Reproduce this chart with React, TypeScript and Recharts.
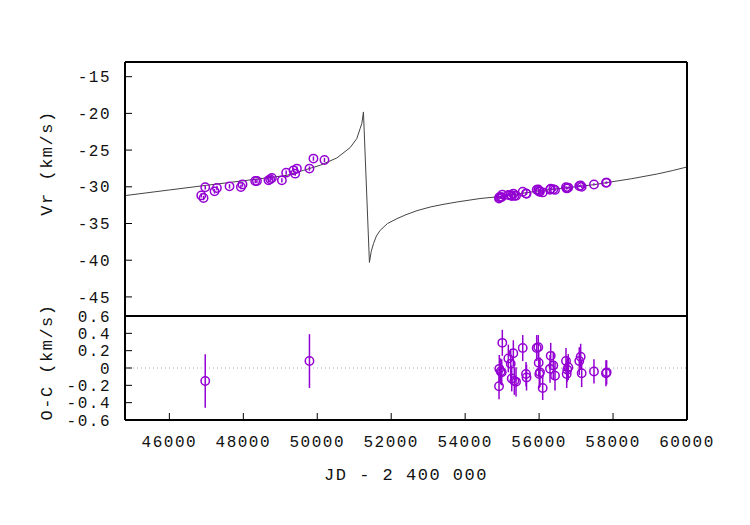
import React from 'react';
import { ComposedChart, Line, Scatter, XAxis, YAxis, ErrorBar, ReferenceLine } from 'recharts';

// orbit model
const curveJd = [44800, 46000, 47000, 48000, 49178, 49627, 50078, 50530, 50889, 51070, 51159, 51205, 51249,
  51411, 51460, 51519, 51600, 51700, 51900, 52151, 52400, 52700, 53051, 53400, 53800, 54403, 55000, 56000, 56800,
  57500, 57800, 58500, 59200, 59600, 60000];
const curveVr = [-31.2, -30.43, -29.8, -29.18, -28.44, -27.76, -27.07, -26.07, -24.66, -23.43, -22.07, -21.38, -19.8,
  -40.3, -38.8, -37.76, -36.7, -35.94, -35.0, -34.35, -33.8, -33.25, -32.76, -32.4, -32.05, -31.6, -31.3, -30.55,
  -30.1, -29.7, -29.45, -28.9, -28.25, -27.8, -27.3];

// radial velocities
const obsJd = [46862, 46924, 46970, 47222, 47286, 47627, 47935, 47978, 48322, 48368, 48681, 48727, 48773, 49043,
  49159, 49357, 49403, 49449, 49789, 49897, 50195,
  54916, 54924, 54962, 54989, 55005, 55168, 55232, 55259, 55303, 55330, 55376, 55557, 55646, 55660, 55935, 55978,
  55989, 56005, 56024, 56097, 56295, 56314, 56384, 56430, 56727, 56746, 56762, 56789, 57086, 57124, 57151, 57484,
  57808, 57827];
const obsVr = [-31.17, -31.53, -30.07, -30.62, -30.17, -29.94, -30.03, -29.67, -29.22, -29.22, -29.12, -28.98, -28.81,
  -29.12, -28.07, -27.76, -28.21, -27.52, -27.52, -26.16, -26.35,
  -31.61, -31.41, -31.42, -31.4, -31.06, -31.11, -31.1, -31.27, -30.93, -31.22, -31.22, -30.67, -30.9, -30.94, -30.39,
  -30.36, -30.54, -30.67, -30.64, -30.76, -30.41, -30.26, -30.32, -30.42, -30.07, -30.22, -30.17, -30.11, -29.9,
  -29.83, -30.01, -29.68, -29.45, -29.43];
const obsErr = [0.3, 0.3, 0.3, 0.3, 0.3, 0.3, 0.3, 0.3, 0.3, 0.3, 0.3, 0.3, 0.3, 0.3, 0.3, 0.3, 0.3, 0.3, 0.3, 0.3, 0.3,
  0.15, 0.15, 0.15, 0.15, 0.15, 0.15, 0.15, 0.15, 0.15, 0.15, 0.15, 0.15, 0.15, 0.15, 0.15, 0.15, 0.15, 0.15, 0.15,
  0.15, 0.15, 0.15, 0.15, 0.15, 0.15, 0.15, 0.15, 0.15, 0.15, 0.15, 0.15, 0.15, 0.15, 0.15];

// residuals O-C
const ocJd = [46970, 49789,
  54916, 54924, 54962, 54989, 55005, 55168, 55232, 55259, 55303, 55330, 55376, 55557, 55646, 55660, 55935, 55978,
  55989, 56005, 56024, 56097, 56295, 56314, 56384, 56430, 56727, 56746, 56762, 56789, 57086, 57124, 57151, 57484,
  57808, 57827];
const ocVal = [-0.15, 0.08,
  -0.21, -0.01, -0.04, -0.05, 0.29, 0.11, 0.05, -0.12, 0.17, -0.15, -0.16, 0.23, -0.07, -0.11, 0.23, 0.24,
  0.06, -0.07, -0.05, -0.23, -0.01, 0.14, 0.03, -0.09, 0.08, -0.07, -0.02, 0.01, 0.08, 0.13, -0.06, -0.04,
  -0.06, -0.05];
const ocErr = [0.31, 0.31,
  0.15, 0.16, 0.15, 0.15, 0.15, 0.16, 0.17, 0.15, 0.15, 0.16, 0.17, 0.15, 0.14, 0.15, 0.15, 0.14,
  0.15, 0.16, 0.17, 0.14, 0.16, 0.15, 0.16, 0.17, 0.15, 0.16, 0.14, 0.15, 0.16, 0.15, 0.16, 0.14,
  0.15, 0.14];

const xTicks = [46000, 48000, 50000, 52000, 54000, 56000, 58000, 60000];
const vrTicks = [-45, -40, -35, -30, -25, -20, -15];
const ocTicks = [-0.6, -0.4, -0.2, 0, 0.2, 0.4, 0.6];

const PURPLE = '#9400d3';
const FONT = '"Liberation Mono", "DejaVu Sans Mono", monospace';
const frame = { stroke: '#000', strokeWidth: 2 };
const tickLn = { stroke: '#000', strokeWidth: 1 };
const tickTxt = { fontSize: 16, letterSpacing: 1.5, fill: '#111', fontFamily: FONT };

const curveData = curveJd.map((jd, i) => ({ jd, v: curveVr[i] }));
const obsData = obsJd.map((jd, i) => ({ jd, v: obsVr[i], err: obsErr[i] }));
const ocData = ocJd.map((jd, i) => ({ jd, v: ocVal[i], err: ocErr[i] }));

function Ring(props: any) {
  const { cx, cy } = props;
  if (cx == null || cy == null) return null;
  return <circle cx={cx} cy={cy} r={4.2} fill="none" stroke={PURPLE} strokeWidth={1.5} />;
}

const title = (left: number, top: number, rotate: boolean): React.CSSProperties => ({
  position: 'absolute',
  left,
  top,
  transform: `translate(-50%, -50%)${rotate ? ' rotate(-90deg)' : ''}`,
  whiteSpace: 'pre',
  fontFamily: FONT,
  fontSize: 17,
  letterSpacing: 1.5,
  color: '#111',
});

export default function App() {
  return (
    <div style={{ position: 'absolute', left: 0, top: 0, width: 750, height: 525, background: '#fff' }}>
      <div style={{ position: 'absolute', left: 0, top: 0 }}>
        <ComposedChart width={750} height={330} margin={{ top: 62, right: 63, bottom: 14, left: 0 }}>
          <XAxis xAxisId="b" dataKey="jd" type="number" domain={[44800, 60000]} allowDataOverflow ticks={xTicks}
            mirror tick={false} tickSize={7} axisLine={frame} tickLine={tickLn} height={10} />
          <XAxis xAxisId="t" orientation="top" type="number" domain={[44800, 60000]} allowDataOverflow ticks={xTicks}
            mirror tick={false} tickSize={7} axisLine={frame} tickLine={tickLn} height={10} />
          <YAxis yAxisId="l" dataKey="v" type="number" domain={[-47.6, -13]} allowDataOverflow ticks={vrTicks}
            interval={0} width={125} tickSize={-7} tickMargin={21} tick={tickTxt} axisLine={frame} tickLine={tickLn} />
          <YAxis yAxisId="r" orientation="right" type="number" domain={[-47.6, -13]} allowDataOverflow ticks={vrTicks}
            mirror tick={false} tickSize={7} width={10} axisLine={frame} tickLine={tickLn} />
          <Line xAxisId="b" yAxisId="l" data={curveData} dataKey="v" type="linear" stroke="#444" strokeWidth={1}
            dot={false} isAnimationActive={false} />
          <Scatter xAxisId="b" yAxisId="l" data={obsData} dataKey="v" shape={Ring} isAnimationActive={false}>
            <ErrorBar dataKey="err" direction="y" width={0} stroke={PURPLE} strokeWidth={1.5} />
          </Scatter>
        </ComposedChart>
      </div>
      <div style={{ position: 'absolute', left: 0, top: 300 }}>
        <ComposedChart width={750} height={180} margin={{ top: 16, right: 63, bottom: 20, left: 0 }}>
          <XAxis xAxisId="b" dataKey="jd" type="number" domain={[44800, 60000]} allowDataOverflow ticks={xTicks}
            interval={0} height={40} tickSize={-7} tickMargin={23} tick={tickTxt} axisLine={frame} tickLine={tickLn} />
          <XAxis xAxisId="t" orientation="top" type="number" domain={[44800, 60000]} allowDataOverflow ticks={xTicks}
            mirror tick={false} tickSize={7} axisLine={frame} tickLine={tickLn} height={10} />
          <YAxis yAxisId="l" dataKey="v" type="number" domain={[-0.6, 0.6]} allowDataOverflow ticks={ocTicks}
            interval={0} width={125} tickSize={-7} tickMargin={21} tick={tickTxt} axisLine={frame} tickLine={tickLn} />
          <YAxis yAxisId="r" orientation="right" type="number" domain={[-0.6, 0.6]} allowDataOverflow ticks={ocTicks}
            mirror tick={false} tickSize={7} width={10} axisLine={frame} tickLine={tickLn} />
          <ReferenceLine xAxisId="b" yAxisId="l" y={0} stroke="#aaa" strokeWidth={1} strokeDasharray="1 3" />
          <Scatter xAxisId="b" yAxisId="l" data={ocData} dataKey="v" shape={Ring} isAnimationActive={false}>
            <ErrorBar dataKey="err" direction="y" width={0} stroke={PURPLE} strokeWidth={1.5} />
          </Scatter>
        </ComposedChart>
      </div>
      <div style={title(47, 163, true)}>Vr (km/s)</div>
      <div style={title(47, 362, true)}>O-C (km/s)</div>
      <div style={title(406, 475, false)}>JD - 2 400 000</div>
    </div>
  );
}
